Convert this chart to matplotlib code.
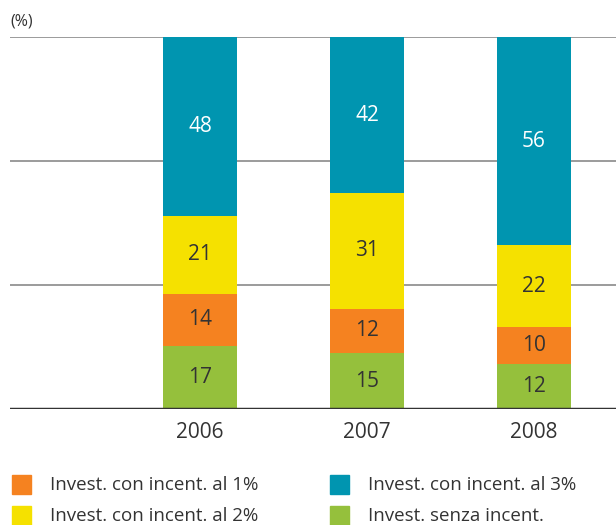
import matplotlib.pyplot as plt
from matplotlib.patches import Rectangle
import numpy as np

years = ["2006", "2007", "2008"]
senza = [17, 15, 12]
al1 = [14, 12, 10]
al2 = [21, 31, 22]
al3 = [48, 42, 56]

labels = ["Invest. senza incent.", "Invest. con incent. al 1%",
          "Invest. con incent. al 2%", "Invest. con incent. al 3%"]
colors = ["#95C03C", "#F58220", "#F5E100", "#0095B0"]
label_colors = ["#333333", "#333333", "#333333", "white"]

plt.rcParams['font.family'] = ['Open Sans', 'DejaVu Sans']
txt = "#333333"

W, H = 616, 525
fig = plt.figure(figsize=(W / 100, H / 100), dpi=100)
ax = fig.add_axes([10 / W, 116 / H, 606 / W, 372 / H])

x = np.arange(len(years))
series = [senza, al1, al2, al3]
bottom = np.zeros(len(years))
bars = []
for vals, c, lab, lc in zip(series, colors, labels, label_colors):
    b = ax.bar(x, vals, width=0.443, bottom=bottom, color=c, label=lab, zorder=3)
    bars.append(b)
    for xi, v, bt in zip(x, vals, bottom):
        ax.text(xi, bt + v / 2, str(v), ha="center", va="center",
                fontsize=15, color=lc, zorder=4)
    bottom += np.array(vals)

ax.set_xlim(-1.138, 2.491)
ax.set_ylim(0, 100)

# griglia
for g in [100 / 3, 200 / 3, 100]:
    ax.axhline(g, color="#8a8a8a", lw=1.2, zorder=1)
ax.axhline(0, color="#333333", lw=2.5, zorder=5)

for s in ax.spines.values():
    s.set_visible(False)
ax.set_yticks([])
ax.set_xticks(x)
ax.set_xticklabels(years, fontsize=15, color=txt)
ax.tick_params(axis="x", length=0, pad=9)

fig.text(10 / W, 1 - 22 / H, "(%)", fontsize=11.5, color=txt, va="center")

# legenda disegnata a mano: (colonna, riga)
order = [1, 2, 3, 0]
pos = [(12, 475), (12, 506), (330, 475), (330, 506)]
for k, (px, py) in zip(order, pos):
    fig.patches.append(Rectangle((px / W, 1 - (py + 19) / H), 19 / W, 19 / H,
                                 transform=fig.transFigure, color=colors[k]))
    fig.text((px + 38) / W, 1 - (py + 10) / H, labels[k], fontsize=13.5,
             color=txt, va="center")

plt.savefig("out.png", dpi=100)
